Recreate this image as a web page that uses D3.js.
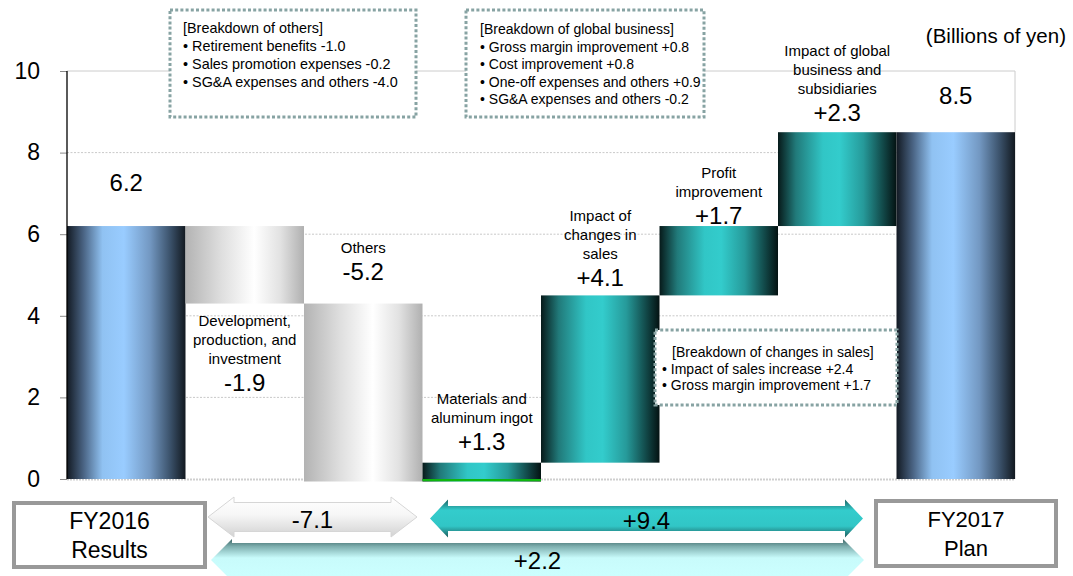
<!DOCTYPE html>
<html>
<head>
<meta charset="utf-8">
<script src="https://cdn.jsdelivr.net/npm/d3@7"></script>
<style>
  html, body { margin: 0; padding: 0; background: #ffffff; }
  svg { display: block; font-family: "Liberation Sans", Arial, Helvetica, sans-serif; }
</style>
</head>
<body>
<svg id="chart" width="1073" height="576"></svg>
<script>
// Operating profit bridge: FY2016 results to FY2017 plan (billions of yen)
const categories = [
  "FY2016 Results",
  "Development, production, and investment",
  "Others",
  "Materials and aluminum ingot",
  "Impact of changes in sales",
  "Profit improvement",
  "Impact of global business and subsidiaries",
  "FY2017 Plan"
];
const categoryLines = [
  [],
  ["Development,", "production, and", "investment"],
  ["Others"],
  ["Materials and", "aluminum ingot"],
  ["Impact of", "changes in", "sales"],
  ["Profit", "improvement"],
  ["Impact of global", "business and", "subsidiaries"],
  []
];
const values = [6.2, -1.9, -5.2, 1.3, 4.1, 1.7, 2.3, 8.5];
const barKinds = ["total", "cost", "cost", "gain", "gain", "gain", "gain", "total"];
// stated totals of the cost items, the gain items and the net change
const summaryValues = [-7.1, 9.4, 2.2];
const yTicks = [0, 2, 4, 6, 8, 10];
const unitLabel = "(Billions of yen)";
const startLabel = ["FY2016", "Results"];
const endLabel = ["FY2017", "Plan"];
const breakdownOthers = [
  "[Breakdown of others]",
  "\u2022 Retirement benefits -1.0",
  "\u2022 Sales promotion expenses -0.2",
  "\u2022 SG&A expenses and others -4.0"
];
const breakdownGlobal = [
  "[Breakdown of global business]",
  "\u2022 Gross margin improvement +0.8",
  "\u2022 Cost improvement +0.8",
  "\u2022 One-off expenses and others +0.9",
  "\u2022 SG&A expenses and others -0.2"
];
const breakdownSales = [
  "[Breakdown of changes in sales]",
  "\u2022 Impact of sales increase +2.4",
  "\u2022 Gross margin improvement +1.7"
];

// ---- layout ----
const plot = { left: 67, right: 1015, top: 71, bottom: 479 };
// value label placement per bar: which end it hangs from and the baseline offset
const labelPlacement = [
  { end: "top", dy: -35 },
  { end: "bottom", dy: 87 },
  { end: "top", dy: -24 },
  { end: "top", dy: -13 },
  { end: "top", dy: -9 },
  { end: "top", dy: -2 },
  { end: "top", dy: -11 },
  { end: "top", dy: -28 }
];
const FONT = '"Liberation Sans", Arial, Helvetica, sans-serif';

const svg = d3.select("#chart");
const defs = svg.append("defs");

function hGradient(id, stops) {
  const g = defs.append("linearGradient").attr("id", id)
    .attr("x1", "0").attr("y1", "0").attr("x2", "1").attr("y2", "0");
  stops.forEach(([o, c]) => g.append("stop").attr("offset", o).attr("stop-color", c));
}
function vGradient(id, stops) {
  const g = defs.append("linearGradient").attr("id", id)
    .attr("x1", "0").attr("y1", "0").attr("x2", "0").attr("y2", "1");
  stops.forEach(([o, c]) => g.append("stop").attr("offset", o).attr("stop-color", c));
}
hGradient("gradTotal", [[0, "#131a23"], [0.14, "#4a6484"], [0.3, "#90c2f2"], [0.48, "#99ccff"], [0.7, "#7398c2"], [0.87, "#3b526b"], [1, "#121920"]]);
hGradient("gradCost", [[0, "#b3b3b3"], [0.3, "#dedede"], [0.58, "#ffffff"], [0.8, "#e2e2e2"], [1, "#b0b0b0"]]);
hGradient("gradGain", [[0, "#071a1a"], [0.15, "#217a7a"], [0.38, "#31c6c6"], [0.52, "#33cccc"], [0.72, "#269a9a"], [0.9, "#104242"], [1, "#041212"]]);
vGradient("gradArrowCost", [[0, "#ffffff"], [0.45, "#f6f6f6"], [1, "#d2d2d2"]]);
vGradient("gradArrowGain", [[0, "#1c6262"], [0.28, "#33cccc"], [0.7, "#31c6c6"], [1, "#1c5c5c"]]);
vGradient("gradArrowNet", [[0, "#3a6464"], [0.18, "#7fb0b0"], [0.45, "#c8fbfb"], [1, "#ccffff"]]);

const fills = { total: "url(#gradTotal)", cost: "url(#gradCost)", gain: "url(#gradGain)" };

// ---- scales ----
const x = d3.scaleBand().domain(categories).range([plot.left, plot.right]).padding(0);
const y = d3.scaleLinear().domain([0, 10]).range([plot.bottom, plot.top]);

// ---- waterfall steps ----
let running = 0;
const steps = values.map((v, i) => {
  let a, b;
  if (barKinds[i] === "total") { a = 0; b = v; running = v; }
  else { a = running; b = running + v; running = b; }
  return { i, cat: categories[i], v, kind: barKinds[i], lo: Math.min(a, b), hi: Math.max(a, b) };
});

// ---- gridlines and frame ----
const grid = svg.append("g");
yTicks.filter(t => t > 0 && t < 10).forEach(t => {
  grid.append("line")
    .attr("x1", plot.left).attr("x2", plot.right)
    .attr("y1", y(t)).attr("y2", y(t))
    .attr("stroke", "#c9c9c9").attr("stroke-width", 1).attr("stroke-dasharray", "2,1.5");
});
grid.append("line")
  .attr("x1", plot.left).attr("x2", plot.right).attr("y1", y(10)).attr("y2", y(10))
  .attr("stroke", "#cccccc").attr("stroke-width", 1);
grid.append("line")
  .attr("x1", plot.right).attr("x2", plot.right).attr("y1", y(10)).attr("y2", y(0))
  .attr("stroke", "#cccccc").attr("stroke-width", 1);
grid.append("line")
  .attr("x1", plot.left).attr("x2", plot.right).attr("y1", y(0) + 0.5).attr("y2", y(0) + 0.5)
  .attr("stroke", "#cfcfcf").attr("stroke-width", 2).attr("stroke-dasharray", "2,1");

// ---- bars (clipped just below the zero line) ----
defs.append("clipPath").attr("id", "plotClip").append("rect")
  .attr("x", plot.left).attr("y", y(10))
  .attr("width", plot.right - plot.left).attr("height", y(0) - y(10) + 2.5);

const barsG = svg.append("g").attr("clip-path", "url(#plotClip)");
barsG.selectAll("rect.bar").data(steps).join("rect")
  .attr("class", "bar")
  .attr("x", d => x(d.cat))
  .attr("width", x.bandwidth())
  .attr("y", d => y(d.hi))
  .attr("height", d => y(d.lo) - y(d.hi))
  .attr("fill", d => fills[d.kind]);

// thin green rim where a gain bar crosses the zero line
barsG.selectAll("rect.rim").data(steps.filter(d => d.kind === "gain" && d.lo < 0)).join("rect")
  .attr("class", "rim")
  .attr("x", d => x(d.cat)).attr("width", x.bandwidth())
  .attr("y", y(0)).attr("height", 2.5)
  .attr("fill", "#0fb50f");

// ---- y axis ----
const axis = d3.axisLeft(y).tickValues(yTicks).tickSize(7).tickPadding(20).tickFormat(d3.format("d"));
const gAxis = svg.append("g").attr("transform", `translate(${plot.left},0)`).call(axis);
gAxis.attr("font-family", FONT);
gAxis.select(".domain").remove();
gAxis.selectAll(".tick line").attr("stroke", "#8a8a8a");
gAxis.selectAll(".tick text").attr("font-size", 23).attr("fill", "#000");
svg.append("line")
  .attr("x1", plot.left).attr("x2", plot.left).attr("y1", y(0)).attr("y2", y(10))
  .attr("stroke", "#000").attr("stroke-width", 1.3);

// ---- bar labels ----
const fmtValue = d => d.kind === "total" ? d.v.toFixed(1) : (d.v > 0 ? "+" : "-") + Math.abs(d.v).toFixed(1);
const labels = svg.append("g").attr("text-anchor", "middle").attr("fill", "#000");
steps.forEach(d => {
  const p = labelPlacement[d.i];
  const cx = x(d.cat) + x.bandwidth() / 2;
  const base = (p.end === "top" ? y(d.hi) : y(d.lo)) + p.dy;
  labels.append("text").attr("x", cx).attr("y", base)
    .attr("font-size", 24).text(fmtValue(d));
  const lines = categoryLines[d.i];
  lines.forEach((ln, k) => {
    labels.append("text").attr("x", cx)
      .attr("y", base - 27 - (lines.length - 1 - k) * 19)
      .attr("font-size", 15).text(ln);
  });
});

// ---- unit ----
svg.append("text").attr("x", 1066).attr("y", 43).attr("text-anchor", "end")
  .attr("font-size", 20.5).text(unitLabel);

// ---- breakdown boxes ----
const boxes = [
  { lines: breakdownOthers, x: 170, y: 10, w: 246, h: 107, tx: 183, ty: 33, lh: 18, headDx: 0, size: 14.4 },
  { lines: breakdownGlobal, x: 466, y: 10, w: 238, h: 107, tx: 480, ty: 34, lh: 17.5, headDx: 0, size: 14 },
  { lines: breakdownSales, x: 655, y: 330, w: 242, h: 75, tx: 662, ty: 357, lh: 16.5, headDx: 10, size: 14 }
];
boxes.forEach(b => {
  const g = svg.append("g");
  g.append("rect").attr("x", b.x).attr("y", b.y).attr("width", b.w).attr("height", b.h)
    .attr("fill", "#fff").attr("stroke", "#87a3a3").attr("stroke-width", 3)
    .attr("stroke-dasharray", "3,2.2");
  b.lines.forEach((ln, k) => {
    g.append("text").attr("x", b.tx + (k === 0 ? b.headDx : 0)).attr("y", b.ty + k * b.lh)
      .attr("font-size", b.size).attr("fill", "#000").text(ln);
  });
});

// ---- summary arrows ----
const signed = v => (v > 0 ? "+" : "-") + Math.abs(v).toFixed(1);

function doubleArrow(x0, x1, cy, hs, hh, hl) {
  const p = d3.path();
  p.moveTo(x0, cy);
  p.lineTo(x0 + hl, cy - hh); p.lineTo(x0 + hl, cy - hs);
  p.lineTo(x1 - hl, cy - hs); p.lineTo(x1 - hl, cy - hh);
  p.lineTo(x1, cy);
  p.lineTo(x1 - hl, cy + hh); p.lineTo(x1 - hl, cy + hs);
  p.lineTo(x0 + hl, cy + hs); p.lineTo(x0 + hl, cy + hh);
  p.closePath();
  return p.toString();
}
const arrows = [
  { value: summaryValues[0], x0: 208, x1: 417, cy: 517, hs: 14.5, hh: 20, hl: 26, fill: "url(#gradArrowCost)", stroke: "#d6d6d6", ty: 528 },
  { value: summaryValues[1], x0: 430, x1: 863, cy: 518.5, hs: 12.5, hh: 19, hl: 18, fill: "url(#gradArrowGain)", stroke: "none", ty: 529 },
  { value: summaryValues[2], x0: 211, x1: 864, cy: 560, hs: 17, hh: 21, hl: 21, fill: "url(#gradArrowNet)", stroke: "none", ty: 569 }
];
const arrG = svg.append("g");
arrows.forEach(a => {
  arrG.append("path").attr("d", doubleArrow(a.x0, a.x1, a.cy, a.hs, a.hh, a.hl))
    .attr("fill", a.fill).attr("stroke", a.stroke).attr("stroke-width", 1);
  arrG.append("text").attr("x", (a.x0 + a.x1) / 2).attr("y", a.ty)
    .attr("text-anchor", "middle").attr("font-size", 24).attr("fill", "#000")
    .text(signed(a.value));
});

// ---- period boxes ----
const periodBoxes = [
  { lines: startLabel, x: 12, y: 501, w: 195, h: 68, size: 23 },
  { lines: endLabel, x: 874, y: 499, w: 184, h: 69, size: 22 }
];
periodBoxes.forEach(b => {
  svg.append("rect").attr("x", b.x + 2).attr("y", b.y + 2).attr("width", b.w - 4).attr("height", b.h - 4)
    .attr("fill", "#fff").attr("stroke", "#999999").attr("stroke-width", 4);
  b.lines.forEach((ln, k) => {
    svg.append("text").attr("x", b.x + b.w / 2).attr("y", b.y + 28 + k * 29)
      .attr("text-anchor", "middle").attr("font-size", b.size).attr("fill", "#000").text(ln);
  });
});
</script>
</body>
</html>
